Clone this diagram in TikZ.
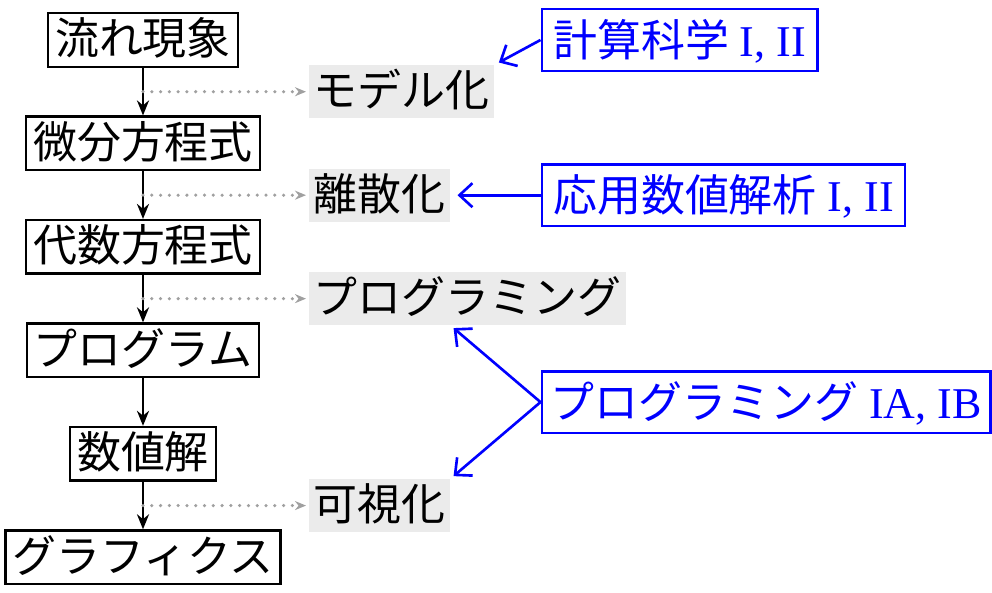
\documentclass[tikz,border=0pt]{standalone}
\usepackage{fontspec}
\newfontfamily\jpfont{Noto Sans CJK JP}
\newfontfamily\coursefont{Liberation Serif}
\usepackage{tikz}
\usetikzlibrary{arrows.meta,positioning,calc}
\definecolor{flowBlue}{HTML}{0000FF}
\definecolor{flowGray}{HTML}{EBEBEB}
\definecolor{flowDot}{HTML}{A0A0A0}
\tikzset{
  stage/.style={
    rectangle,
    draw=black,
    line width=1.4pt,
    inner xsep=0.14cm,
    inner ysep=0pt,
    minimum height=1.07cm,
    text height=22pt,
    text depth=5pt,
    font=\fontsize{25}{30}\jpfont
  },
  topic/.style={
    rectangle,
    fill=flowGray,
    inner xsep=0.09cm,
    inner ysep=0pt,
    minimum height=1.06cm,
    text height=22pt,
    text depth=5pt,
    font=\fontsize{25}{30}\jpfont
  },
  course/.style={
    rectangle,
    draw=flowBlue,
    text=flowBlue,
    line width=1.4pt,
    inner xsep=0.23cm,
    inner ysep=0pt,
    minimum height=1.23cm,
    text height=24pt,
    text depth=5pt,
    font=\fontsize{25}{30}\coursefont
  },
  flowArrow/.style={
    -{Stealth[length=0.3cm,width=0.24cm]},
    line width=1.6pt
  },
  linkArrow/.style={
    -{Stealth[length=0.22cm,width=0.18cm]},
    draw=flowDot,
    line width=2pt,
    line cap=round,
    dash pattern=on 0pt off 5pt,
    shorten >=0.06cm
  },
  courseArrow/.style={
    -{Straight Barb[length=0.26cm,width=0.48cm]},
    draw=flowBlue,
    line width=1.5pt
  }
}

\begin{document}
\begin{tikzpicture}[node distance=0.95cm]
  \useasboundingbox (-2.86,0.8) rectangle (16.98,-11.04);
  % main chain
  \node[stage] (flow) {流れ現象};
  \node[stage,below=of flow] (pde) {微分方程式};
  \node[stage,below=of pde] (alg) {代数方程式};
  \node[stage,below=of alg] (prog) {プログラム};
  \node[stage,below=of prog] (sol) {数値解};
  \node[stage,below=of sol] (graph) {グラフィクス};
  \draw[flowArrow] (flow) -- (pde);
  \draw[flowArrow] (pde) -- (alg);
  \draw[flowArrow] (alg) -- (prog);
  \draw[flowArrow] (prog) -- (sol);
  \draw[flowArrow] (sol) -- (graph);
  % steps between stages
  \coordinate (m1) at ($(flow.south)!0.5!(pde.north)$);
  \coordinate (m2) at ($(pde.south)!0.5!(alg.north)$);
  \coordinate (m3) at ($(alg.south)!0.5!(prog.north)$);
  \coordinate (m5) at ($(sol.south)!0.5!(graph.north)$);
  \node[topic,right=3.32cm of m1] (model) {モデル化};
  \node[topic,right=3.32cm of m2] (disc) {離散化};
  \node[topic,right=3.32cm of m3] (progl) {プログラミング};
  \node[topic,right=3.32cm of m5] (vis) {可視化};
  \draw[linkArrow] (m1) -- (model);
  \draw[linkArrow] (m2) -- (disc);
  \draw[linkArrow] (m3) -- (progl);
  \draw[linkArrow] (m5) -- (vis);
  % courses
  \node[course,right=1.8cm of disc] (ana) {{\jpfont 応用数値解析} I, II};
  \node[course,anchor=west] (cs) at (ana.west |- flow) {{\jpfont 計算科学} I, II};
  \coordinate (m6) at ($(progl)!0.5!(vis)$);
  \node[course,anchor=west,inner xsep=0.18cm] (pc) at (ana.west |- m6) {{\jpfont プログラミング} IA, IB};
  \coordinate (pup) at (vis.north east |- progl.south);
  \draw[courseArrow,shorten >=0.1cm] (cs.west) -- (model.north east);
  \draw[courseArrow,shorten >=0.14cm] (ana) -- (disc);
  \draw[courseArrow,shorten >=0.08cm] (pc.west) -- (pup);
  \draw[courseArrow,shorten >=0.08cm] (pc.west) -- (vis.north east);
\end{tikzpicture}
\end{document}
